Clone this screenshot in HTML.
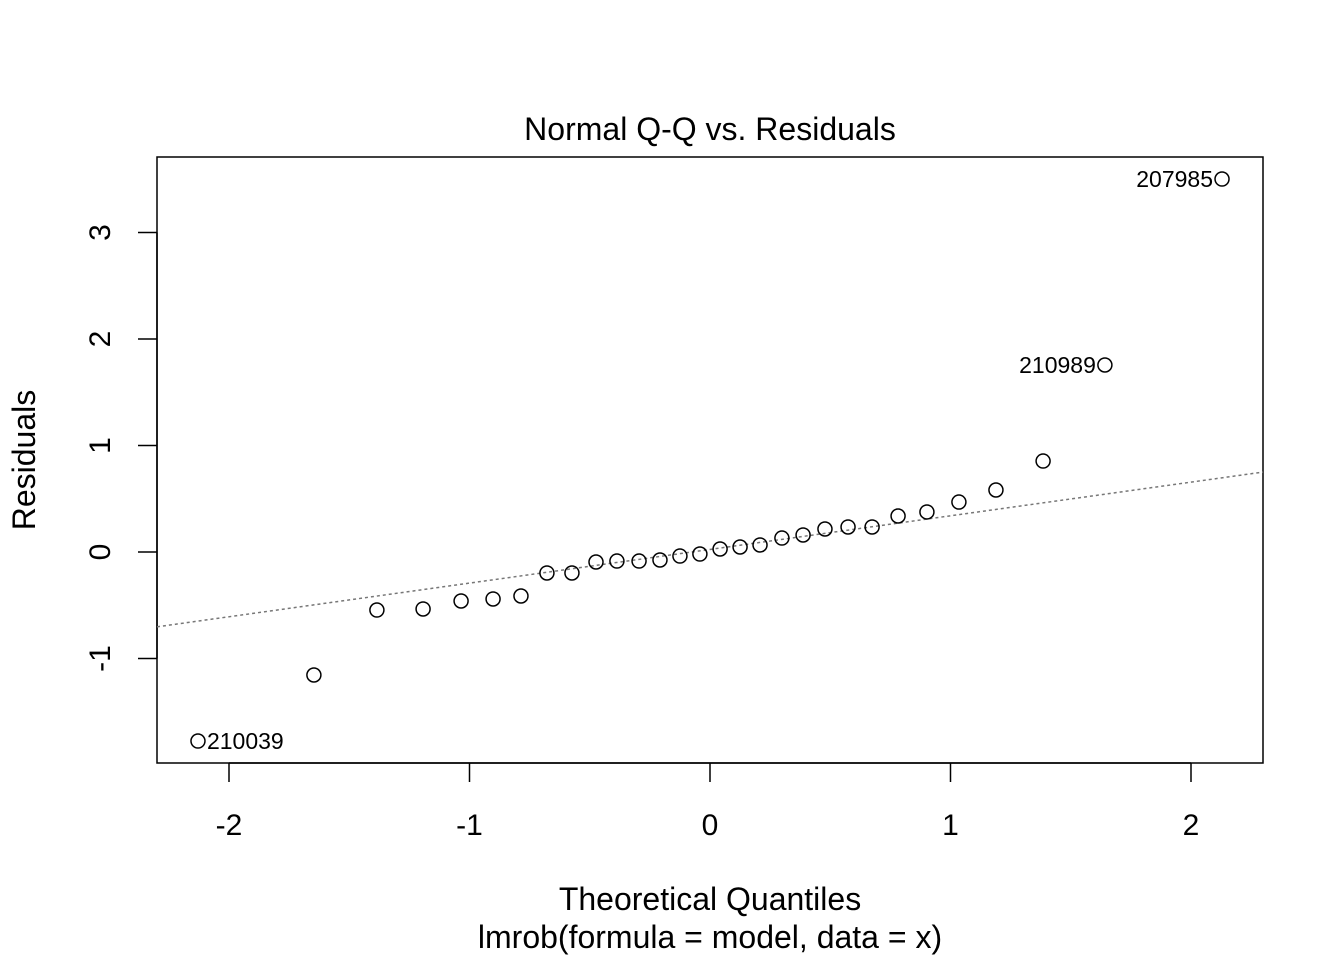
<!DOCTYPE html>
<html><head><meta charset="utf-8"><style>
html,body{margin:0;padding:0;background:#fff;}
svg{display:block;font-family:"Liberation Sans",Arial,sans-serif;}
</style></head><body>
<svg id="chart" width="1344" height="960" viewBox="0 0 1344 960">
<rect x="0" y="0" width="1344" height="960" fill="#fff"/>
<text x="710" y="140" font-size="32" text-anchor="middle">Normal Q-Q vs. Residuals</text>
<text x="710" y="910" font-size="32" text-anchor="middle">Theoretical Quantiles</text>
<text x="710" y="948" font-size="32" text-anchor="middle">lmrob(formula = model, data = x)</text>
<text transform="translate(35,460) rotate(-90)" font-size="32" text-anchor="middle">Residuals</text>
<rect x="157" y="157" width="1106" height="606" fill="none" stroke="#000" stroke-width="1.5"/>
<g id="xaxis"></g>
<g id="yaxis"></g>
<g id="line"></g>
<g id="pts"></g>
</svg>
<script>
const xq = [-2.129,-1.647,-1.385,-1.193,-1.035,-0.902,-0.786,-0.678,-0.574,-0.474,-0.387,-0.295,-0.208,-0.125,-0.042,0.042,0.125,0.208,0.299,0.387,0.478,0.574,0.674,0.782,0.902,1.035,1.189,1.385,1.642,2.129];
const resid = [-1.775,-1.155,-0.545,-0.535,-0.46,-0.441,-0.413,-0.197,-0.197,-0.094,-0.085,-0.085,-0.075,-0.038,-0.019,0.028,0.047,0.066,0.131,0.160,0.216,0.235,0.235,0.338,0.376,0.469,0.582,0.854,1.756,3.502];
const labels = {0:"210039",28:"210989",29:"207985"};
const xTicks = [-2,-1,0,1,2];
const yTicks = [-1,0,1,2,3];
const lineIntercept = 0.024;
const lineSlope = 0.316;
const NS="http://www.w3.org/2000/svg";
function sx(v){return 710+v*240.5;}
function sy(v){return 552-v*106.5;}
function mk(t,a,p){const e=document.createElementNS(NS,t);for(const k in a)e.setAttribute(k,a[k]);p.appendChild(e);return e;}
const xa=document.getElementById('xaxis');
mk('line',{x1:sx(-2),x2:sx(2),y1:763,y2:763,stroke:'#000','stroke-width':1.5},xa);
xTicks.forEach(t=>{
  const l=mk('line',{x1:sx(t),x2:sx(t),y1:763,y2:782,stroke:'#000','stroke-width':1.5},xa);
  
  
  const tx=mk('text',{x:sx(t),y:835,'font-size':30,'text-anchor':'middle'},xa);
  tx.textContent=t;
  
  
});
const ya=document.getElementById('yaxis');
mk('line',{x1:157,x2:157,y1:sy(-1),y2:sy(3),stroke:'#000','stroke-width':1.5},ya);
yTicks.forEach(t=>{
  const l=mk('line',{x1:138,x2:157,y1:sy(t),y2:sy(t),stroke:'#000','stroke-width':1.5},ya);
  
  
  const tx=mk('text',{transform:`translate(110,${sy(t)}) rotate(-90)`,'font-size':30,'text-anchor':'middle'},ya);
  tx.textContent=t;
  
  
});
const lg=document.getElementById('line');
const ln=mk('line',{x1:157,x2:1263,y1:sy(lineIntercept+lineSlope*(157-710)/240.5),y2:sy(lineIntercept+lineSlope*(1263-710)/240.5),stroke:'#777','stroke-width':1.5,'stroke-dasharray':'3,3'},lg);


const pg=document.getElementById('pts');
xq.forEach((x,i)=>{
  const c=mk('circle',{cx:sx(x),cy:sy(resid[i]),r:7,fill:'none',stroke:'#000','stroke-width':1.5},pg);
  
  
  if(labels[i]){
    const left=i!==0;
    const tx=mk('text',{x:left?sx(x)-9:sx(x)+9,y:sy(resid[i])+8,'font-size':23,'text-anchor':left?'end':'start'},pg);
    tx.textContent=labels[i];
    
    
  }
});
</script>
</body></html>
